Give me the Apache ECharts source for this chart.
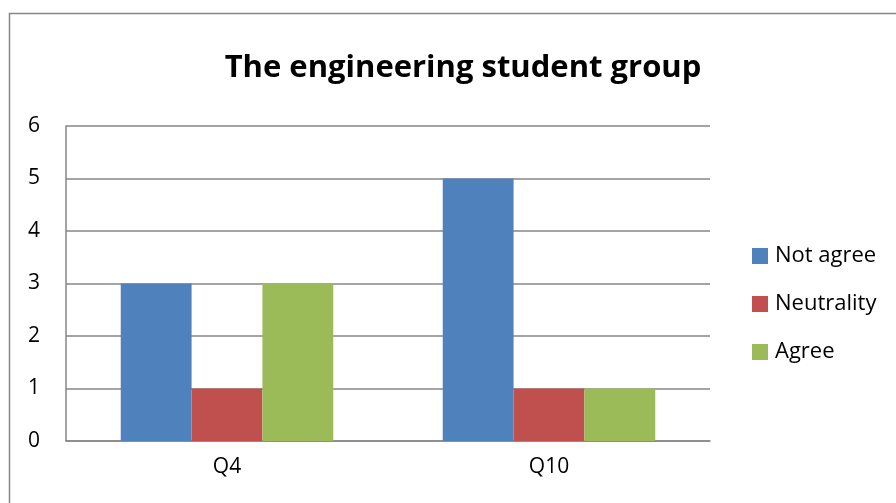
<!DOCTYPE html>
<html>
<head>
<meta charset="utf-8">
<script src="https://cdn.jsdelivr.net/npm/echarts@6/dist/echarts.min.js"></script>
<style>
  html, body { margin: 0; padding: 0; background: #fff; }
  #chart { width: 896px; height: 503px; }
</style>
</head>
<body>
<div id="chart"></div>
<script>
// Survey answers of the engineering student group
const categories = ['Q4', 'Q10'];
const notAgree = [3, 5];
const neutrality = [1, 1];
const agree = [3, 1];
const yTicks = [0, 1, 2, 3, 4, 5, 6];

const FONT = "'Open Sans', 'Liberation Sans', sans-serif";
const chart = echarts.init(document.getElementById('chart'), null, { renderer: 'canvas' });

chart.setOption({
  backgroundColor: '#ffffff',
  animation: false,
  graphic: [{
    type: 'rect',
    shape: { x: 9.5, y: 13.5, width: 900, height: 500 },
    style: { fill: 'none', stroke: '#868686', lineWidth: 1.5 },
    silent: true
  }],
  title: {
    text: 'The engineering student group',
    left: 458,
    top: 48,
    textAlign: 'center',
    textStyle: { fontFamily: FONT, fontWeight: 'bold', fontSize: 31, color: '#000' }
  },
  legend: {
    orient: 'vertical',
    left: 752,
    top: 245,
    padding: 0,
    itemWidth: 16,
    itemHeight: 16,
    itemGap: 26,
    icon: 'rect',
    textStyle: { fontFamily: FONT, fontSize: 22, color: '#000', padding: [0, 0, 0, 2] },
    data: ['Not agree', 'Neutrality', 'Agree']
  },
  grid: { left: 66, right: 186, top: 126, bottom: 62, containLabel: false },
  xAxis: {
    type: 'category',
    data: categories,
    axisLine: { lineStyle: { color: '#868686', width: 1.5 } },
    axisTick: { show: false },
    axisLabel: { fontFamily: FONT, fontSize: 21, color: '#000', margin: 16 }
  },
  yAxis: {
    type: 'value',
    min: yTicks[0],
    max: yTicks[yTicks.length - 1],
    interval: 1,
    axisLine: { show: true, lineStyle: { color: '#868686', width: 1.5 } },
    axisTick: { show: false },
    splitLine: { lineStyle: { color: '#868686', width: 1.5 } },
    axisLabel: { fontFamily: FONT, fontSize: 21, color: '#000', margin: 26 }
  },
  series: [
    { name: 'Not agree', type: 'bar', data: notAgree, barGap: '0%', barCategoryGap: '34%', itemStyle: { color: '#4F81BD' } },
    { name: 'Neutrality', type: 'bar', data: neutrality, itemStyle: { color: '#C0504D' } },
    { name: 'Agree', type: 'bar', data: agree, itemStyle: { color: '#9BBB59' } }
  ]
});
</script>
</body>
</html>
